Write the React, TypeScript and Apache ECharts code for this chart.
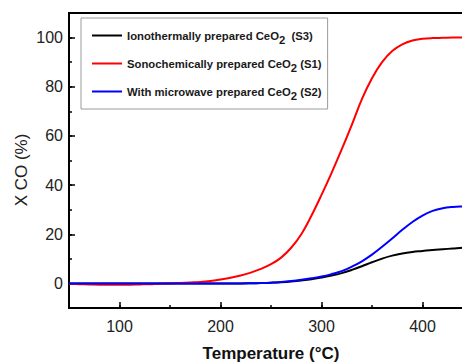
import React, { useEffect, useRef } from "react";
import * as echarts from "echarts";

const temperatures = [50, 60, 70, 80, 90, 100, 110, 120, 130, 140, 150, 160, 170, 180, 190, 200, 210, 220, 230, 240, 250, 260, 270, 280, 290, 300, 310, 320, 330, 340, 350, 360, 370, 380, 390, 400, 410, 420, 430, 440, 450];

const s3Ionothermal = [0, 0, 0, 0, 0, 0, 0, 0, 0, 0, 0, 0, 0, 0, 0, 0, 0, 0, 0.05, 0.15, 0.3, 0.5, 0.8, 1.2, 1.7, 2.4, 3.2, 4.2, 5.5, 7.0, 8.6, 10.1, 11.3, 12.2, 12.8, 13.2, 13.6, 13.9, 14.2, 14.5, 14.7];
const s1Sonochemical = [-0.2, -0.3, -0.4, -0.5, -0.5, -0.5, -0.5, -0.4, -0.3, -0.1, 0.0, 0.2, 0.4, 0.6, 1.0, 1.6, 2.3, 3.2, 4.4, 5.9, 7.8, 10.5, 14.5, 20, 27.5, 36, 45, 54.5, 64.5, 75, 83.5, 90, 94.5, 97.2, 98.8, 99.5, 99.8, 99.9, 100, 100, 100];
const s2Microwave = [0, 0, 0, 0, 0, 0, 0, 0, 0, 0, 0, 0, 0, 0, 0, 0, 0, 0, 0.05, 0.15, 0.3, 0.6, 1.0, 1.5, 2.1, 2.8, 3.8, 5.0, 6.8, 9.0, 11.7, 14.9, 18.3, 21.8, 25, 27.6, 29.5, 30.6, 31.1, 31.3, 31.4];

const seriesNames = [
  "Ionothermally prepared CeO2  (S3)",
  "Sonochemically prepared CeO2 (S1)",
  "With microwave prepared CeO2 (S2)",
];
const seriesColors = ["#000000", "#ff0000", "#0000ff"];
const seriesValues = [s3Ionothermal, s1Sonochemical, s2Microwave];

const xMajorTicks = [100, 200, 300, 400];
const yMajorTicks = [0, 20, 40, 60, 80, 100];
const yAxisTitle = "X CO (%)";
const xAxisTitle = "Temperature (°C)";

const FONT = "'Liberation Sans', Arial, sans-serif";

export default function App() {
  const ref = useRef<HTMLDivElement>(null);
  useEffect(() => {
    document.documentElement.style.overflow = "hidden";
    document.body.style.overflow = "hidden";
    if (!ref.current) return;
    const chart = echarts.init(ref.current, null, { renderer: "svg" });
    const axisCommonX = {
      type: "value",
      min: 50,
      max: 450,
      position: "bottom",
      splitLine: { show: false },
    };
    const axisCommonY = {
      type: "value",
      min: -10,
      max: 110,
      position: "left",
      splitLine: { show: false },
    };
    const lf = 11.3;
    chart.setOption({
      animation: false,
      backgroundColor: "#ffffff",
      grid: {
        left: 69,
        top: 13,
        bottom: 56,
        right: 7,
        outerBoundsMode: "none",
        containLabel: false,
        show: true,
        borderColor: "#000",
        borderWidth: 2,
        backgroundColor: "transparent",
      },
      graphic: [
        {
          type: "text",
          x: 21,
          y: 170,
          rotation: Math.PI / 2,
          style: {
            text: yAxisTitle,
            fontFamily: FONT,
            fontSize: 17,
            fill: "#222",
            align: "center",
            verticalAlign: "middle",
          },
        },
      ],
      legend: {
        orient: "vertical",
        left: 81,
        top: 18,
        padding: [12, 6, 8, 11],
        itemGap: 13,
        itemWidth: 30,
        itemHeight: 2,
        icon: "rect",
        borderColor: "#9a9a9a",
        borderWidth: 1,
        backgroundColor: "#fff",
        data: seriesNames,
        formatter: (name: string) => {
          const [a, b] = name.split("CeO2");
          return `{t|${a}CeO}{s|2}{t|${b}}`;
        },
        textStyle: {
          fontFamily: FONT,
          fontWeight: "bold",
          fontSize: lf,
          color: "#1a1a1a",
          rich: {
            t: { fontFamily: FONT, fontWeight: "bold", fontSize: lf, color: "#1a1a1a" },
            s: { fontFamily: FONT, fontWeight: "bold", fontSize: lf, color: "#1a1a1a", padding: [8, 0, 0, 0] },
          },
        },
      },
      xAxis: [
        {
          ...axisCommonX,
          interval: 50,
          name: xAxisTitle,
          nameLocation: "middle",
          nameGap: 37,
          nameTextStyle: { fontFamily: FONT, fontWeight: "bold", fontSize: 17, color: "#111" },
          axisLine: { onZero: false, lineStyle: { color: "#000", width: 2 } },
          axisTick: { inside: true, length: 3, lineStyle: { color: "#000", width: 1.5 } },
          axisLabel: {
            customValues: xMajorTicks,
            margin: 10,
            fontFamily: FONT,
            fontSize: 16,
            color: "#222",
          },
        },
        {
          ...axisCommonX,
          axisLine: { show: false, onZero: false },
          axisTick: { inside: true, length: 6, customValues: xMajorTicks, lineStyle: { color: "#000", width: 1.5 } },
          axisLabel: { show: false },
        },
      ],
      yAxis: [
        {
          ...axisCommonY,
          interval: 10,
          axisLine: { onZero: false, lineStyle: { color: "#000", width: 2 } },
          axisTick: { inside: true, length: 3, lineStyle: { color: "#000", width: 1.5 } },
          axisLabel: {
            customValues: yMajorTicks,
            margin: 6,
            fontFamily: FONT,
            fontSize: 16,
            color: "#222",
          },
        },
        {
          ...axisCommonY,
          axisLine: { show: false, onZero: false },
          axisTick: { inside: true, length: 6, customValues: yMajorTicks, lineStyle: { color: "#000", width: 1.5 } },
          axisLabel: { show: false },
        },
      ],
      series: seriesNames.map((name, i) => ({
        name,
        type: "line",
        xAxisIndex: 0,
        yAxisIndex: 0,
        smooth: 0.4,
        symbol: "none",
        color: seriesColors[i],
        lineStyle: { color: seriesColors[i], width: 2 },
        data: temperatures.map((t, j) => [t, seriesValues[i][j]]),
      })),
    });
    return () => chart.dispose();
  }, []);
  return (
    <div
      ref={ref}
      style={{ position: "fixed", left: 0, top: 0, width: 480, height: 364 }}
    />
  );
}
